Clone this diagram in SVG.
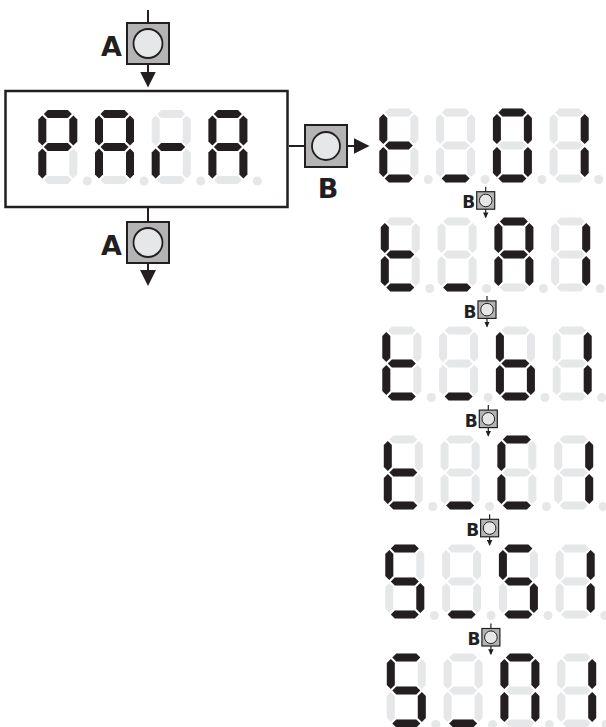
<svg xmlns="http://www.w3.org/2000/svg" xmlns:xlink="http://www.w3.org/1999/xlink" width="606" height="727" viewBox="0 0 606 727">
<style>
.off{fill:#e6e7e8}
.on{fill:#231f20}
.box{fill:#ffffff;stroke:#231f20;stroke-width:2.5}
.btn{fill:#b4b4b5;stroke:#231f20;stroke-width:2}
.knob{fill:#e6e7e8;stroke:#231f20;stroke-width:1.8}
.sbtn{fill:#b4b4b5;stroke:#231f20;stroke-width:1.2}
.sknob{fill:#e6e7e8;stroke:#231f20;stroke-width:1}
.wire{fill:none;stroke:#231f20;stroke-width:2}
.swire{fill:none;stroke:#231f20;stroke-width:1.2}
.lbl{font-family:"DejaVu Sans","Liberation Sans",sans-serif;font-weight:bold;fill:#231f20}
</style>
<defs>
<polygon id="sa" points="5.5,4 9.5,0 29.5,0 33.5,4 29.5,8 9.5,8"/>
<polygon id="sg" points="5.5,37 9.5,33 29.5,33 33.5,37 29.5,41 9.5,41"/>
<polygon id="sd" points="5.5,70 9.5,66 29.5,66 33.5,70 29.5,74 9.5,74"/>
<polygon id="sf" points="4,5.5 8,9.5 8,31.5 4,35.5 0,31.5 0,9.5"/>
<polygon id="se" points="4,38.5 8,42.5 8,64.5 4,68.5 0,64.5 0,42.5"/>
<polygon id="sb" points="35,5.5 39,9.5 39,31.5 35,35.5 31,31.5 31,9.5"/>
<polygon id="sc" points="35,38.5 39,42.5 39,64.5 35,68.5 31,64.5 31,42.5"/>
<g id="blank">
<use href="#sa"/><use href="#sb"/><use href="#sc"/><use href="#sd"/><use href="#se"/><use href="#sf"/><use href="#sg"/>
<circle cx="49" cy="71" r="4.5"/>
</g>
<marker id="ah" markerUnits="userSpaceOnUse" markerWidth="16" markerHeight="16" viewBox="0 0 16 16" refX="14" refY="8" orient="auto">
<path d="M0,0 L16,8 L0,16 z" fill="#231f20"/>
</marker>
<marker id="ahs" markerUnits="userSpaceOnUse" markerWidth="6" markerHeight="6" viewBox="0 0 5.5 5" refX="4.5" refY="2.5" orient="auto">
<path d="M0,0 L5.5,2.5 L0,5 z" fill="#231f20"/>
</marker>
</defs>

<g id="connectors">
<path class="wire" d="M148,10 V23"/>
<path class="wire" d="M148,64 V85.5" marker-end="url(#ah)"/>
<path class="wire" d="M148,207 V222"/>
<path class="wire" d="M148,263 V284" marker-end="url(#ah)"/>
<path class="wire" d="M289,146 H305"/>
<path class="wire" d="M347,146 H367.5" marker-end="url(#ah)"/>
<path class="swire" d="M485.7,186.7 V191.7"/>
<path class="swire" d="M485.7,209.2 V217.3" marker-end="url(#ahs)"/>
<path class="swire" d="M487,295.9 V300.9"/>
<path class="swire" d="M487,318.4 V326.5" marker-end="url(#ahs)"/>
<path class="swire" d="M488.3,405.1 V410.1"/>
<path class="swire" d="M488.3,427.6 V435.7" marker-end="url(#ahs)"/>
<path class="swire" d="M489.6,514.3 V519.3"/>
<path class="swire" d="M489.6,536.8 V544.9" marker-end="url(#ahs)"/>
<path class="swire" d="M490.9,623.5 V628.5"/>
<path class="swire" d="M490.9,646 V654.1" marker-end="url(#ahs)"/>
</g>

<g id="btn-a-top">
<rect class="btn" x="127" y="23" width="42" height="41"/>
<circle class="knob" cx="148" cy="43.5" r="14.5"/>
<text class="lbl" x="122" y="56" font-size="27" text-anchor="end">A</text>
</g>

<g id="btn-a-bottom">
<rect class="btn" x="127" y="222" width="42" height="41"/>
<circle class="knob" cx="148" cy="242.5" r="14.5"/>
<text class="lbl" x="122" y="255" font-size="27" text-anchor="end">A</text>
</g>

<g id="btn-b">
<rect class="btn" x="305" y="125" width="42" height="42"/>
<circle class="knob" cx="326" cy="146" r="14"/>
<text class="lbl" x="328" y="198" font-size="27" text-anchor="middle">B</text>
</g>

<g id="display-para">
<rect class="box" x="5.5" y="91" width="282" height="116"/>
<g transform="translate(38.3,110)"><use href="#blank" class="off"/><g class="on"><use href="#sa"/><use href="#sb"/><use href="#se"/><use href="#sf"/><use href="#sg"/></g></g>
<g transform="translate(95,110)"><use href="#blank" class="off"/><g class="on"><use href="#sa"/><use href="#sb"/><use href="#sc"/><use href="#se"/><use href="#sf"/><use href="#sg"/></g></g>
<g transform="translate(151.7,110)"><use href="#blank" class="off"/><g class="on"><use href="#se"/><use href="#sg"/></g></g>
<g transform="translate(208.4,110)"><use href="#blank" class="off"/><g class="on"><use href="#sa"/><use href="#sb"/><use href="#sc"/><use href="#se"/><use href="#sf"/><use href="#sg"/></g></g>
</g>

<g id="display-t01">
<g transform="translate(379.3,108.5)"><use href="#blank" class="off"/><g class="on"><use href="#sd"/><use href="#se"/><use href="#sf"/><use href="#sg"/></g></g>
<g transform="translate(436.1,108.5)"><use href="#blank" class="off"/><g class="on"><use href="#sd"/></g></g>
<g transform="translate(492.9,108.5)"><use href="#blank" class="off"/><g class="on"><use href="#sa"/><use href="#sb"/><use href="#sc"/><use href="#sd"/><use href="#se"/><use href="#sf"/></g></g>
<g transform="translate(549.7,108.5)"><use href="#blank" class="off"/><g class="on"><use href="#sb"/><use href="#sc"/></g></g>
</g>

<g id="btn-b1">
<rect class="sbtn" x="476.7" y="191.7" width="18" height="17.5"/>
<circle class="sknob" cx="485.7" cy="200.45" r="6.3"/>
<text class="lbl" x="475.2" y="208.3" font-size="17" text-anchor="end">B</text>
</g>

<g id="display-ta1">
<g transform="translate(380.8,217.5)"><use href="#blank" class="off"/><g class="on"><use href="#sd"/><use href="#se"/><use href="#sf"/><use href="#sg"/></g></g>
<g transform="translate(437.6,217.5)"><use href="#blank" class="off"/><g class="on"><use href="#sd"/></g></g>
<g transform="translate(494.4,217.5)"><use href="#blank" class="off"/><g class="on"><use href="#sa"/><use href="#sb"/><use href="#sc"/><use href="#se"/><use href="#sf"/><use href="#sg"/></g></g>
<g transform="translate(551.2,217.5)"><use href="#blank" class="off"/><g class="on"><use href="#sb"/><use href="#sc"/></g></g>
</g>

<g id="btn-b2">
<rect class="sbtn" x="478" y="300.9" width="18" height="17.5"/>
<circle class="sknob" cx="487" cy="309.65" r="6.3"/>
<text class="lbl" x="476.5" y="317.5" font-size="17" text-anchor="end">B</text>
</g>

<g id="display-tb1">
<g transform="translate(382.3,326.5)"><use href="#blank" class="off"/><g class="on"><use href="#sd"/><use href="#se"/><use href="#sf"/><use href="#sg"/></g></g>
<g transform="translate(439.1,326.5)"><use href="#blank" class="off"/><g class="on"><use href="#sd"/></g></g>
<g transform="translate(495.9,326.5)"><use href="#blank" class="off"/><g class="on"><use href="#sc"/><use href="#sd"/><use href="#se"/><use href="#sf"/><use href="#sg"/></g></g>
<g transform="translate(552.7,326.5)"><use href="#blank" class="off"/><g class="on"><use href="#sb"/><use href="#sc"/></g></g>
</g>

<g id="btn-b3">
<rect class="sbtn" x="479.3" y="410.1" width="18" height="17.5"/>
<circle class="sknob" cx="488.3" cy="418.85" r="6.3"/>
<text class="lbl" x="477.8" y="426.7" font-size="17" text-anchor="end">B</text>
</g>

<g id="display-tc1">
<g transform="translate(383.8,435.5)"><use href="#blank" class="off"/><g class="on"><use href="#sd"/><use href="#se"/><use href="#sf"/><use href="#sg"/></g></g>
<g transform="translate(440.6,435.5)"><use href="#blank" class="off"/><g class="on"><use href="#sd"/></g></g>
<g transform="translate(497.4,435.5)"><use href="#blank" class="off"/><g class="on"><use href="#sa"/><use href="#sd"/><use href="#se"/><use href="#sf"/></g></g>
<g transform="translate(554.2,435.5)"><use href="#blank" class="off"/><g class="on"><use href="#sb"/><use href="#sc"/></g></g>
</g>

<g id="btn-b4">
<rect class="sbtn" x="480.6" y="519.3" width="18" height="17.5"/>
<circle class="sknob" cx="489.6" cy="528.05" r="6.3"/>
<text class="lbl" x="479.1" y="535.9" font-size="17" text-anchor="end">B</text>
</g>

<g id="display-ss1">
<g transform="translate(385.3,544.5)"><use href="#blank" class="off"/><g class="on"><use href="#sa"/><use href="#sc"/><use href="#sd"/><use href="#sf"/><use href="#sg"/></g></g>
<g transform="translate(442.1,544.5)"><use href="#blank" class="off"/><g class="on"><use href="#sd"/></g></g>
<g transform="translate(498.9,544.5)"><use href="#blank" class="off"/><g class="on"><use href="#sa"/><use href="#sc"/><use href="#sd"/><use href="#sf"/><use href="#sg"/></g></g>
<g transform="translate(555.7,544.5)"><use href="#blank" class="off"/><g class="on"><use href="#sb"/><use href="#sc"/></g></g>
</g>

<g id="btn-b5">
<rect class="sbtn" x="481.9" y="628.5" width="18" height="17.5"/>
<circle class="sknob" cx="490.9" cy="637.25" r="6.3"/>
<text class="lbl" x="480.4" y="645.1" font-size="17" text-anchor="end">B</text>
</g>

<g id="display-sn1">
<g transform="translate(386.8,653.5)"><use href="#blank" class="off"/><g class="on"><use href="#sa"/><use href="#sc"/><use href="#sd"/><use href="#sf"/><use href="#sg"/></g></g>
<g transform="translate(443.6,653.5)"><use href="#blank" class="off"/><g class="on"><use href="#sd"/></g></g>
<g transform="translate(500.4,653.5)"><use href="#blank" class="off"/><g class="on"><use href="#sa"/><use href="#sb"/><use href="#sc"/><use href="#se"/><use href="#sf"/></g></g>
<g transform="translate(557.2,653.5)"><use href="#blank" class="off"/><g class="on"><use href="#sb"/><use href="#sc"/></g></g>
</g>
</svg>
